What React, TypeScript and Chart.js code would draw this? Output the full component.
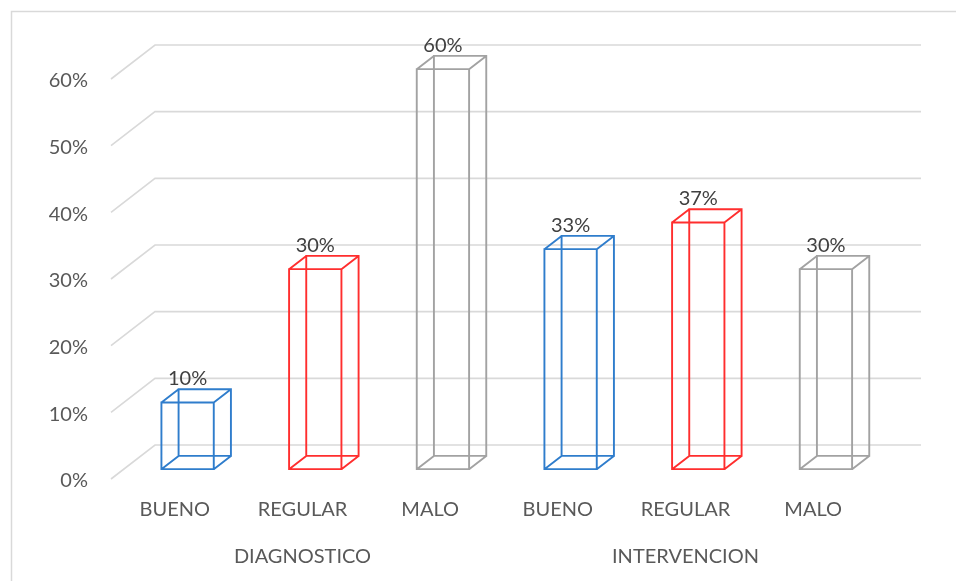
import { useEffect, useRef } from 'react';
import { Chart, registerables } from 'chart.js';

Chart.register(...registerables);

// Category labels, group labels and percentages per bar
const categories = ['BUENO', 'REGULAR', 'MALO', 'BUENO', 'REGULAR', 'MALO'];
const groups = ['DIAGNOSTICO', 'INTERVENCION'];
const values = [10, 30, 60, 33, 37, 30];
const barColors = ['#2f7dcc', '#ff2e2e', '#a2a2a2', '#2f7dcc', '#ff2e2e', '#a2a2a2'];
const yMin = 0;
const yMax = 60;
const yStep = 10;

const FONT = "Lato, 'DejaVu Sans', sans-serif";
const FONT_SIZE = 20;

// Oblique depth of the floor and where the boxes sit inside that depth
const DEPTH_X = 44;
const DEPTH_Y = -34;
const BOX_FRONT = 0.29;
const BOX_BACK = 0.68;

const wireframe3d = {
  id: 'wireframe3d',
  beforeDraw(chart: any) {
    const { ctx } = chart;
    ctx.save();
    ctx.strokeStyle = '#d9d9d9';
    ctx.lineWidth = 1.5;
    ctx.strokeRect(11.5, 11.5, chart.width + 20, chart.height + 20);
    ctx.restore();
  },
  beforeDatasetsDraw(chart: any) {
    const { ctx, chartArea } = chart;
    const yScale = chart.scales.y;
    ctx.save();
    ctx.strokeStyle = '#d9d9d9';
    ctx.lineWidth = 1.6;
    yScale.ticks.forEach((t: any) => {
      const y = yScale.getPixelForValue(t.value);
      ctx.beginPath();
      ctx.moveTo(chartArea.left, y);
      ctx.lineTo(chartArea.left + DEPTH_X, y + DEPTH_Y);
      ctx.lineTo(chartArea.right + DEPTH_X, y + DEPTH_Y);
      ctx.stroke();
    });
    ctx.restore();
  },
  afterDatasetsDraw(chart: any) {
    const { ctx } = chart;
    const meta = chart.getDatasetMeta(0);
    ctx.save();
    ctx.lineWidth = 1.9;
    ctx.lineJoin = 'miter';
    meta.data.forEach((el: any, i: number) => {
      const { x, y, base, width } = el.getProps(['x', 'y', 'base', 'width'], true);
      const face = (d: number) => ({
        l: x - width / 2 + d * DEPTH_X,
        r: x + width / 2 + d * DEPTH_X,
        t: y + d * DEPTH_Y,
        b: base + d * DEPTH_Y,
      });
      const f = face(BOX_FRONT);
      const k = face(BOX_BACK);
      ctx.strokeStyle = barColors[i];
      ctx.beginPath();
      ctx.rect(k.l, k.t, k.r - k.l, k.b - k.t);
      ctx.rect(f.l, f.t, f.r - f.l, f.b - f.t);
      ctx.moveTo(f.l, f.t); ctx.lineTo(k.l, k.t);
      ctx.moveTo(f.r, f.t); ctx.lineTo(k.r, k.t);
      ctx.moveTo(f.l, f.b); ctx.lineTo(k.l, k.b);
      ctx.moveTo(f.r, f.b); ctx.lineTo(k.r, k.b);
      ctx.stroke();

      ctx.fillStyle = '#404040';
      ctx.font = `${FONT_SIZE}px ${FONT}`;
      ctx.textAlign = 'center';
      ctx.textBaseline = 'middle';
      ctx.fillText(`${values[i]}%`, (f.l + f.r) / 2, k.t - 10.5);
    });
    ctx.restore();
  },
};

export default function App() {
  const canvasRef = useRef<HTMLCanvasElement | null>(null);

  useEffect(() => {
    let chart: Chart | null = null;
    let cancelled = false;
    const build = () => {
      if (cancelled || !canvasRef.current) return;
      chart = new Chart(canvasRef.current, {
        type: 'bar',
        data: {
          labels: categories,
          datasets: [
            {
              data: values,
              backgroundColor: 'rgba(0,0,0,0)',
              borderWidth: 0,
              barPercentage: 1,
              categoryPercentage: 0.41,
            },
          ],
        },
        options: {
          responsive: false,
          animation: false,
          layout: { padding: { top: 79, right: 79, left: 0, bottom: 0 } },
          plugins: {
            legend: { display: false },
            tooltip: { enabled: false },
          },
          scales: {
            y: {
              min: yMin,
              max: yMax,
              grid: { display: false, drawTicks: false },
              border: { display: false },
              ticks: {
                stepSize: yStep,
                padding: 23,
                labelOffset: 2,
                color: '#595959',
                font: { family: FONT, size: FONT_SIZE },
                callback: (v: any) => `${v}%`,
              },
              afterFit: (s: any) => { s.width = 111; },
            },
            x: {
              position: 'bottom',
              grid: { display: false, drawTicks: false },
              border: { display: false },
              ticks: {
                padding: 19,
                color: '#595959',
                font: { family: FONT, size: FONT_SIZE },
                maxRotation: 0,
                autoSkip: false,
              },
              afterFit: (s: any) => { s.height = 55; },
            },
            groups: {
              type: 'category',
              position: 'bottom',
              labels: groups,
              grid: { display: false, drawTicks: false },
              border: { display: false },
              ticks: {
                padding: 11,
                color: '#595959',
                font: { family: FONT, size: FONT_SIZE },
                maxRotation: 0,
                autoSkip: false,
              },
              afterFit: (s: any) => { s.height = 47; },
            },
          },
        },
        plugins: [wireframe3d],
      });
    };
    if (document.fonts && document.fonts.load) {
      document.fonts.load(`${FONT_SIZE}px ${FONT}`).then(build, build);
    } else {
      build();
    }
    return () => {
      cancelled = true;
      if (chart) chart.destroy();
    };
  }, []);

  return (
    <div style={{ position: 'fixed', left: 0, top: 0, width: 956, height: 581, background: '#fff' }}>
      <canvas ref={canvasRef} width={956} height={581} />
    </div>
  );
}
